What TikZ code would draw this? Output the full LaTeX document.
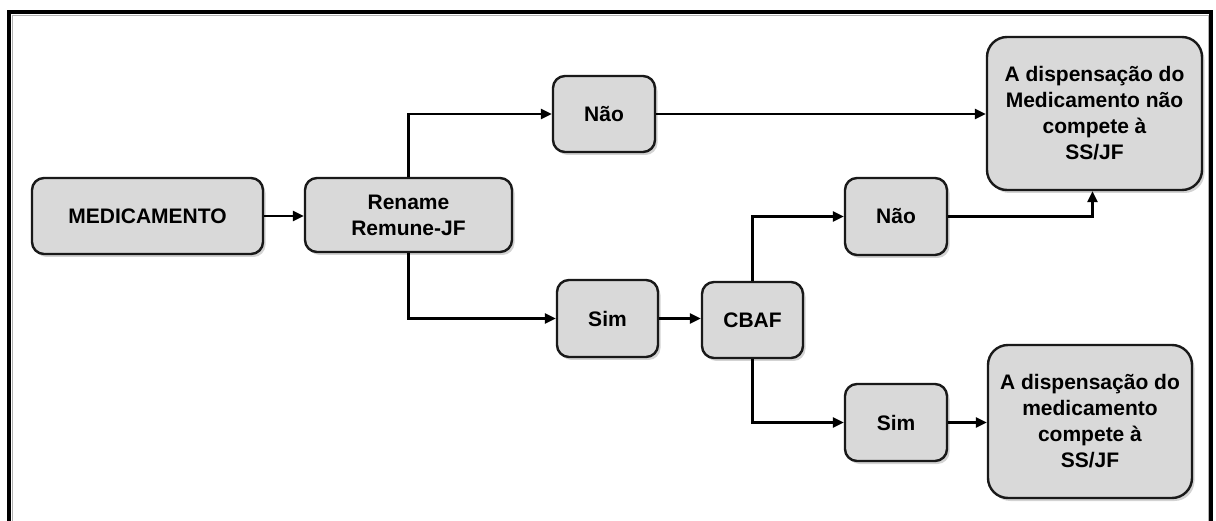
\documentclass[tikz,border=0pt]{standalone}
\usepackage{fontspec}
\setmainfont{Liberation Sans}
\usetikzlibrary{arrows.meta,shadows}
\definecolor{boxfill}{RGB}{217,217,217}
\definecolor{boxline}{RGB}{25,25,25}
\tikzset{
  box/.style={draw=boxline, line width=2.4pt, fill=boxfill, rounded corners=12pt,
    align=center, inner sep=0pt, font=\fontsize{21}{26}\selectfont\bfseries,
    drop shadow={opacity=0.35, shadow xshift=2.5pt, shadow yshift=-3pt}},
  bigbox/.style={box, rounded corners=20pt},
  conn/.style={line width=2.4pt, black, -{Triangle[length=11pt,width=10pt]}}
}
\begin{document}
\begin{tikzpicture}[x=1pt,y=-1pt]
\useasboundingbox (0,0) rectangle (1216,521);
% frame
\draw[gray!60, line width=0.8pt] (12,521) -- (12,15) -- (1208,15) -- (1208,521);
\draw[line width=4pt] (9,521) -- (9,12) -- (1211,12) -- (1211,521);
% nodes
\node[box, minimum width=231pt, minimum height=76pt] (med) at (147.5,216) {MEDICAMENTO};
\node[box, minimum width=207pt, minimum height=74pt] (ren) at (408.5,215) {Rename\\Remune-JF};
\node[box, minimum width=102pt, minimum height=76pt] (nao1) at (604,114) {Não};
\node[box, minimum width=101pt, minimum height=77pt] (sim1) at (607.5,318.5) {Sim};
\node[box, minimum width=101pt, minimum height=76pt] (cbaf) at (752.5,320) {CBAF};
\node[box, minimum width=102pt, minimum height=77pt] (nao2) at (896,216.5) {Não};
\node[box, minimum width=102pt, minimum height=77pt] (sim2) at (896,422.5) {Sim};
\node[bigbox, minimum width=215pt, minimum height=153pt] (res1) at (1094.5,113.5)
  {A dispensação do\\Medicamento não\\compete à\\SS/JF};
\node[bigbox, minimum width=204pt, minimum height=153pt] (res2) at (1090,421.5)
  {A dispensação do\\medicamento\\compete à\\SS/JF};
% connectors
\draw[conn] (med.east) -- (med.east -| ren.west);
\draw[conn] (ren.north) |- (nao1.west);
\draw[conn] (ren.south) |- (sim1.west);
\draw[conn] (sim1.east) -- (sim1.east -| cbaf.west);
\draw[conn] (cbaf.north) |- (nao2.west);
\draw[conn] (cbaf.south) |- (sim2.west);
\draw[conn] (nao1.east) -- (nao1.east -| res1.west);
\draw[conn] (nao2.east) -| ([xshift=-2pt]res1.south);
\draw[conn] (sim2.east) -- (sim2.east -| res2.west);
\end{tikzpicture}
\end{document}
